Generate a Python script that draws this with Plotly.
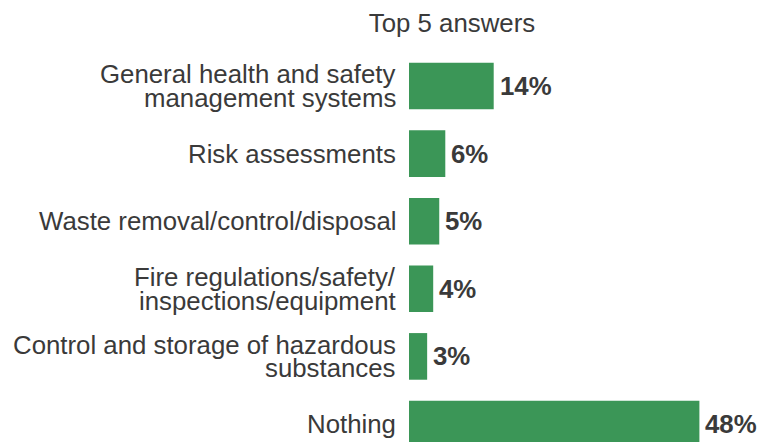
import plotly.graph_objects as go

title_text = "Top 5 answers"
categories = [
    "General health and safety<br>management systems",
    "Risk assessments",
    "Waste removal/control/disposal",
    "Fire regulations/safety/<br>inspections/equipment",
    "Control and storage of hazardous<br>substances",
    "Nothing",
]
values = [14, 6, 5, 4, 3, 48]
value_labels = ["14%", "6%", "5%", "4%", "3%", "48%"]

bar_color = "#3b9657"
text_color = "#3a3a3a"
font_family = "Liberation Sans, Arial, sans-serif"
label_size = 25.8
line_gap = 23.4

fig = go.Figure()
fig.add_trace(go.Bar(
    y=categories,
    x=values,
    orientation="h",
    marker=dict(color=bar_color, line=dict(width=0)),
    hoverinfo="skip",
))

annotations = []
for cat, val, lab in zip(categories, values, value_labels):
    lines = cat.split("<br>")
    n = len(lines)
    for i, ln in enumerate(lines):
        shift = ((n - 1) / 2 - i) * line_gap
        annotations.append(dict(
            x=0, y=cat, xref="x", yref="y", text=ln, showarrow=False,
            xanchor="right", yanchor="middle", xshift=-11, yshift=shift,
            font=dict(family=font_family, size=label_size, color=text_color),
        ))
    annotations.append(dict(
        x=val, y=cat, xref="x", yref="y", text="<b>" + lab + "</b>",
        showarrow=False, xanchor="left", yanchor="middle", xshift=4,
        font=dict(family=font_family, size=label_size, color=text_color),
    ))

fig.update_layout(
    width=762, height=442,
    margin=dict(l=409, r=0, t=50, b=0),
    paper_bgcolor="white", plot_bgcolor="white",
    bargap=0.31,
    showlegend=False,
    title=dict(
        text=title_text, x=452 / 762, xanchor="center", xref="container",
        y=1 - 23 / 442, yanchor="middle", yref="container",
        font=dict(family=font_family, size=label_size, color=text_color),
    ),
    xaxis=dict(range=[0, 353 / 6.05], visible=False, fixedrange=True),
    yaxis=dict(
        type="category", categoryorder="array", categoryarray=categories,
        range=[5 + 18 / 67.6, -36 / 67.6], showticklabels=False,
        showgrid=False, zeroline=False, showline=False, ticks="", fixedrange=True,
    ),
    annotations=annotations,
)

fig.write_html("out.html", config={"displayModeBar": False})
